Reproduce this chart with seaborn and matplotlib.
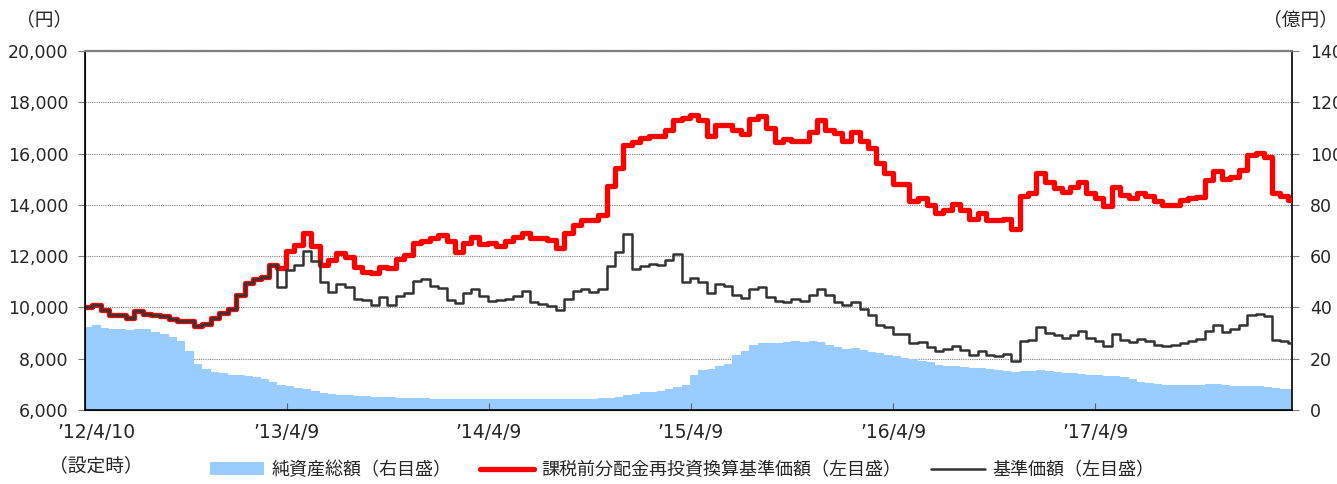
import pandas as pd
import matplotlib
matplotlib.use("Agg")
import matplotlib.pyplot as plt
from matplotlib.patches import Patch
from matplotlib.lines import Line2D
from matplotlib.transforms import ScaledTranslation
import seaborn as sns

sns.set_style("ticks")
plt.rcParams["font.family"] = ["DejaVu Sans", "Noto Sans CJK JP"]

# semi-monthly observation dates, from launch (2012/4/10) to 2018/3/30
dates = (pd.DatetimeIndex(["2012-04-10"])
         .append(pd.date_range("2012-04-15", "2018-03-15", freq="SMS"))
         .append(pd.DatetimeIndex(["2018-03-30"])))

# 課税前分配金再投資換算基準価額 (yen)
reinvested = [
    # 2012
    10000, 10030, 10080, 9900, 9700, 9720, 9600, 9860, 9760, 9720, 9650, 9560,
    9460, 9460, 9290, 9350, 9600, 9800,
    # 2013
    9950, 10480, 10950, 11100, 11200, 11650, 11550, 12200, 12450, 12900, 12400, 11650,
    11850, 12130, 11950, 11580, 11400, 11350, 11580, 11550, 11900, 12030, 12500, 12600,
    # 2014
    12700, 12830, 12600, 12170, 12500, 12750, 12470, 12500, 12400, 12600, 12760, 12900,
    12700, 12720, 12620, 12300, 12900, 13230, 13420, 13420, 13600, 14750, 15450, 16350,
    # 2015
    16450, 16600, 16700, 16680, 16900, 17300, 17400, 17500, 17300, 16700, 17100, 17100,
    16910, 16760, 17350, 17450, 17010, 16460, 16550, 16500, 16500, 16850, 17300, 16900,
    # 2016
    16800, 16500, 16850, 16500, 16200, 15650, 15230, 14820, 14810, 14150, 14280, 14000,
    13700, 13800, 14050, 13800, 13450, 13700, 13420, 13400, 13450, 13050, 14350, 14450,
    # 2017
    15230, 14900, 14650, 14500, 14700, 14900, 14450, 14250, 13950, 14700, 14400, 14250,
    14450, 14360, 14150, 14000, 14000, 14200, 14280, 14320, 14950, 15330, 14990, 15100,
    # 2018
    15340, 15950, 16010, 15850, 14450, 14350, 14200,
]

# 基準価額 (yen)
nav = [
    # 2012
    10000, 10030, 10080, 9900, 9700, 9720, 9600, 9860, 9760, 9720, 9650, 9560,
    9460, 9460, 9290, 9350, 9600, 9800,
    # 2013
    9950, 10480, 10950, 11100, 11200, 11650, 10800, 11450, 11650, 12200, 11800, 10990,
    10600, 10930, 10800, 10340, 10300, 10100, 10400, 10100, 10430, 10580, 11050, 11120,
    # 2014
    10840, 10740, 10300, 10170, 10560, 10700, 10430, 10270, 10280, 10340, 10460, 10630,
    10230, 10150, 10040, 9890, 10330, 10650, 10700, 10600, 10700, 11600, 12150, 12850,
    # 2015
    11500, 11620, 11700, 11660, 11850, 12100, 11000, 11150, 10990, 10580, 10900, 10840,
    10480, 10360, 10720, 10800, 10410, 10250, 10220, 10340, 10270, 10470, 10700, 10500,
    # 2016
    10200, 10080, 10200, 9950, 9690, 9300, 9230, 8980, 8980, 8620, 8660, 8470,
    8310, 8380, 8500, 8330, 8140, 8300, 8150, 8100, 8170, 7930, 8700, 8720,
    # 2017
    9240, 9020, 8930, 8820, 8920, 9100, 8790, 8700, 8490, 8950, 8720, 8660,
    8780, 8680, 8550, 8500, 8520, 8630, 8680, 8760, 9100, 9330, 9060, 9170,
    # 2018
    9300, 9720, 9730, 9650, 8720, 8680, 8600,
]

# 純資産総額 (100 million yen)
assets = [
    # 2012
    32.0, 32.5, 33.0, 32.0, 31.5, 31.7, 31.3, 31.5, 31.5, 30.5, 29.5, 28.3,
    27.0, 23.0, 18.0, 15.8, 14.8, 14.3,
    # 2013
    13.8, 13.8, 13.4, 12.8, 12.0, 11.0, 9.8, 9.2, 8.4, 8.0, 7.4, 6.6,
    6.1, 6.0, 5.8, 5.5, 5.3, 5.2, 5.0, 4.9, 4.8, 4.8, 4.8, 4.6,
    # 2014
    4.4, 4.3, 4.2, 4.2, 4.3, 4.4, 4.4, 4.4, 4.4, 4.3, 4.3, 4.2,
    4.2, 4.2, 4.2, 4.2, 4.2, 4.2, 4.2, 4.3, 4.5, 4.8, 5.2, 5.7,
    # 2015
    6.3, 6.9, 7.2, 7.6, 8.3, 9.0, 9.8, 13.6, 15.5, 15.8, 17.0, 17.8,
    21.5, 23.0, 25.5, 26.2, 26.2, 26.0, 26.6, 26.8, 26.4, 26.8, 26.5, 25.5,
    # 2016
    24.6, 23.8, 24.0, 23.3, 22.8, 22.2, 21.6, 21.2, 20.2, 19.7, 19.3, 18.6,
    17.7, 17.3, 17.0, 16.6, 16.3, 16.4, 16.0, 15.6, 15.2, 14.8, 15.2, 15.4,
    # 2017
    15.5, 15.1, 14.7, 14.3, 14.3, 14.1, 13.7, 13.6, 13.3, 13.1, 12.8, 12.2,
    11.0, 10.5, 10.0, 9.8, 9.8, 9.8, 9.8, 9.9, 10.0, 10.0, 9.8, 9.4,
    # 2018
    9.3, 9.3, 9.2, 9.0, 8.4, 8.2, 8.0,
]

tick_dates = ["2012-04-10", "2013-04-09", "2014-04-09", "2015-04-09", "2016-04-09", "2017-04-09"]
tick_labels = ["’12/4/10\n（設定時）", "’13/4/9", "’14/4/9", "’15/4/9", "’16/4/9", "’17/4/9"]
left_ticks = list(range(6000, 20001, 2000))
right_ticks = list(range(0, 141, 20))

label_assets = "純資産総額（右目盛）"
label_reinv = "課税前分配金再投資換算基準価額（左目盛）"
label_nav = "基準価額（左目盛）"

df = pd.DataFrame({"date": dates, "reinvested": reinvested, "nav": nav, "assets": assets})

W, H = 1337, 484
fig = plt.figure(figsize=(W / 100, H / 100), dpi=100)
ax = fig.add_axes([85 / W, 1 - 410 / H, (1292 - 85) / W, (410 - 51) / H])
ax2 = ax.twinx()
ax.set_zorder(ax2.get_zorder() + 1)
ax.patch.set_visible(False)

# net assets area (right scale) with the grid behind it
ax2.set_axisbelow(True)
ax2.grid(axis="y", linestyle=(0, (1, 1)), color="#7f7f7f", linewidth=0.8)
ax2.fill_between(df["date"], df["assets"], 0, step="mid", color="#99ccff", linewidth=0)
ax2.set_ylim(0, 140)
ax2.set_yticks(right_ticks)

sns.lineplot(data=df, x="date", y="reinvested", ax=ax, color="#ff0000",
             linewidth=3.8, drawstyle="steps-mid")
sns.lineplot(data=df, x="date", y="nav", ax=ax, color="#333333",
             linewidth=1.8, drawstyle="steps-mid")

ax.set_xlim(df["date"].iloc[0], df["date"].iloc[-1])
ax.set_ylim(6000, 20000)
ax.set_yticks(left_ticks)
ax.set_yticklabels([f"{v:,}" for v in left_ticks])
ax.set_xticks(pd.to_datetime(tick_dates))
ax.set_xticklabels(tick_labels)
ax.set_xlabel("")
ax.set_ylabel("")

ax.tick_params(axis="x", direction="in", length=5, color="#606060", pad=9, labelsize=13.5)
ax.tick_params(axis="y", direction="out", length=5, color="#7f7f7f", pad=7, labelsize=12.5)
ax2.tick_params(axis="y", direction="out", length=5, color="#7f7f7f", pad=8, labelsize=12.5)

first = ax.get_xticklabels()[0]
first.set_linespacing(1.95)
first.set_transform(first.get_transform() + ScaledTranslation(0.11, 0, fig.dpi_scale_trans))

for a in (ax, ax2):
    a.spines["top"].set_visible(False)
ax.spines["top"].set_visible(True)
ax.spines["top"].set_color("#7f7f7f")
ax.spines["top"].set_linestyle((0, (1, 1)))
ax.spines["top"].set_linewidth(1.6)
ax.spines["right"].set_visible(False)
for s in ("left", "bottom"):
    ax.spines[s].set_color("black")
    ax.spines[s].set_linewidth(1.2)
ax2.spines["right"].set_color("black")
ax2.spines["right"].set_linewidth(1.2)

fig.text(44 / W, 1 - 20 / H, "（円）", ha="center", va="center", fontsize=13.5)
fig.text(1301 / W, 1 - 20 / H, "（億円）", ha="center", va="center", fontsize=13.5)

handles = [
    Patch(facecolor="#99ccff", edgecolor="none", label=label_assets),
    Line2D([], [], color="#ff0000", linewidth=3.8, label=label_reinv),
    Line2D([], [], color="#333333", linewidth=1.8, label=label_nav),
]
fig.legend(handles=handles, loc="center", bbox_to_anchor=(682 / W, 1 - 470 / H), ncol=3,
           frameon=False, fontsize=13, handlelength=3.0, handletextpad=0.4,
           columnspacing=1.6)

fig.savefig("out.png", dpi=100)
